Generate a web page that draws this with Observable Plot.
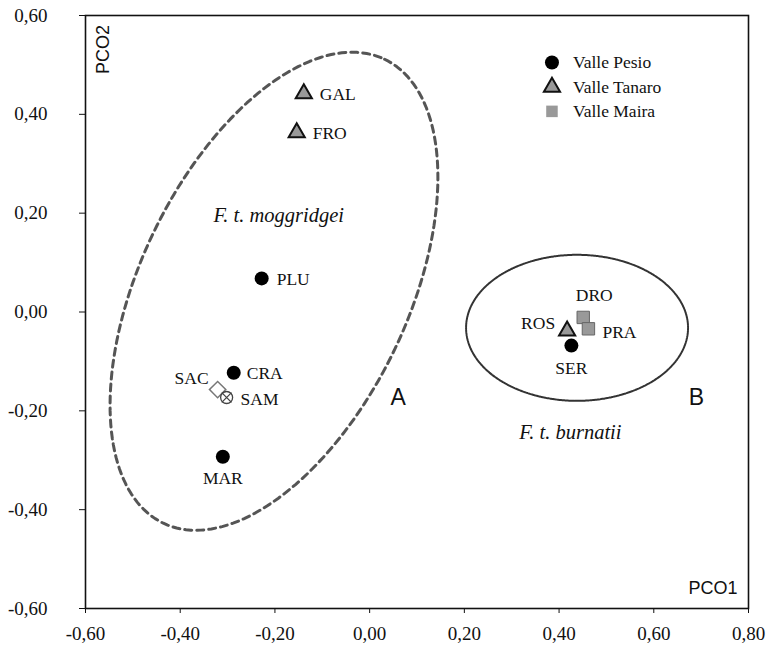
<!DOCTYPE html>
<html>
<head>
<meta charset="utf-8">
<script src="https://cdn.jsdelivr.net/npm/d3@7"></script>
<script src="https://cdn.jsdelivr.net/npm/@observablehq/plot@0.6"></script>
<style>
  html, body { margin: 0; padding: 0; background: #fff; }
  #chart svg { display: block; }
</style>
</head>
<body>
<div id="chart"></div>
<script>
// ---- data ----
const sites  = ["GAL", "FRO", "PLU", "CRA", "SAC", "SAM", "MAR", "ROS", "SER", "DRO", "PRA"];
const pco1   = [-0.139, -0.154, -0.228, -0.287, -0.321, -0.302, -0.310, 0.417, 0.426, 0.451, 0.462];
const pco2   = [0.442, 0.363, 0.068, -0.123, -0.157, -0.173, -0.293, -0.038, -0.068, -0.011, -0.034];
const valley = ["Valle Tanaro", "Valle Tanaro", "Valle Pesio", "Valle Pesio", "none", "none",
                "Valle Pesio", "Valle Tanaro", "Valle Pesio", "Valle Maira", "Valle Maira"];
const valleys = ["Valle Pesio", "Valle Tanaro", "Valle Maira"];
const groupNames = ["F. t. moggridgei", "F. t. burnatii"];
const groupLetters = ["A", "B"];
const xTicks = [-0.6, -0.4, -0.2, 0, 0.2, 0.4, 0.6, 0.8];
const yTicks = [-0.6, -0.4, -0.2, 0, 0.2, 0.4, 0.6];
const xLabel = "PCO1";
const yLabel = "PCO2";

// ---- layout ----
const W = 766, H = 652;
const mL = 85, mR = 18, mT = 15, mB = 44;
const kx = (W - mL - mR) / 1.4;   // px per unit
const ky = (H - mT - mB) / 1.2;

const rows = sites.map((s, i) => ({site: s, x: pco1[i], y: pco2[i], valley: valley[i]}));
const fmt = d => d3.format(".2f")(d).replace(".", ",").replace("\u2212", "-");

// enclosing ellipses (annotation shapes), center in data units, radii in px
function ellipse(cx, cy, aPx, bPx, deg) {
  const th = deg * Math.PI / 180, pts = [];
  for (let i = 0; i < 180; i++) {
    const t = 2 * Math.PI * i / 180;
    const u = aPx * Math.cos(t), v = bPx * Math.sin(t);
    const px = u * Math.sin(th) + v * Math.cos(th);
    const py = -u * Math.cos(th) + v * Math.sin(th);
    pts.push({x: cx + px / kx, y: cy - py / ky});
  }
  return pts;
}
const ellA = ellipse(-0.202, 0.042, 257, 134, 25.5);
const ellB = ellipse(0.438, -0.032, 73, 111, 0);

const serif = "'Liberation Serif', 'Times New Roman', serif";
const sans = "'Liberation Sans', Arial, sans-serif";
const fs = 17.5;

const labelPlace = {
  GAL: {dx: 16, dy: 1, a: "start"},
  FRO: {dx: 16, dy: 1, a: "start"},
  PLU: {dx: 15, dy: 1, a: "start"},
  CRA: {dx: 13, dy: 1, a: "start"},
  SAC: {dx: -9, dy: -11, a: "end"},
  SAM: {dx: 14, dy: 2, a: "start"},
  MAR: {dx: 0, dy: 22, a: "middle"},
  ROS: {dx: -12, dy: -7, a: "end"},
  SER: {dx: 0, dy: 23, a: "middle"},
  DRO: {dx: 11, dy: -22, a: "middle"},
  PRA: {dx: 14, dy: 4, a: "start"}
};
const labelMarks = sites.map(s => Plot.text(rows.filter(d => d.site === s), {
  x: "x", y: "y", text: "site", dx: labelPlace[s].dx, dy: labelPlace[s].dy,
  textAnchor: labelPlace[s].a, fontFamily: serif, fontSize: fs, fill: "#111"
}));

// legend rows
const legendRows = valleys.map((v, i) => ({name: v, x: 0.385, y: [0.505, 0.455, 0.406][i]}));

const chart = Plot.plot({
  width: W, height: H,
  marginLeft: mL, marginRight: mR, marginTop: mT, marginBottom: mB,
  x: {domain: [-0.6, 0.8]},
  y: {domain: [-0.6, 0.6]},
  style: {fontFamily: serif, fontSize: fs + "px", color: "#111", background: "#fff"},
  marks: [
    Plot.axisX({ticks: xTicks, tickFormat: () => "", tickSize: 5, label: null}),
    Plot.axisY({ticks: yTicks, tickFormat: () => "", tickSize: 6, label: null}),
    Plot.text(xTicks, {x: d => d, frameAnchor: "bottom", dy: 31, text: fmt, fontFamily: serif, fontSize: 19, fill: "#111"}),
    Plot.text(yTicks, {y: d => d, frameAnchor: "left", dx: -38, textAnchor: "end", text: fmt, fontFamily: serif, fontSize: 19, fill: "#111"}),
    Plot.frame({stroke: "#111", strokeWidth: 1.6}),
    Plot.line(ellA, {x: "x", y: "y", curve: "linear-closed", stroke: "#555", strokeWidth: 3, strokeDasharray: "7,5"}),
    Plot.line(ellB, {x: "x", y: "y", curve: "linear-closed", stroke: "#333", strokeWidth: 2, strokeDasharray: "1.6,0.8"}),
    // points
    Plot.dot(rows.filter(d => d.valley === "Valle Pesio"), {x: "x", y: "y", symbol: "circle", r: 7, fill: "#000"}),
    Plot.dot(rows.filter(d => d.valley === "Valle Tanaro"), {x: "x", y: "y", symbol: "triangle", r: 6, fill: "#999", stroke: "#111", strokeWidth: 2}),
    Plot.dot(rows.filter(d => d.valley === "Valle Maira"), {x: "x", y: "y", symbol: "square", r: 7, fill: "#999", stroke: "#666", strokeWidth: 1}),
    Plot.dot(rows.filter(d => d.site === "SAC"), {x: "x", y: "y", symbol: "square", r: 6.5, rotate: 45, fill: "#fff", stroke: "#777", strokeWidth: 1.5}),
    Plot.dot(rows.filter(d => d.site === "SAM"), {x: "x", y: "y", symbol: "circle", r: 6, fill: "#fff", stroke: "#444", strokeWidth: 1.3}),
    Plot.dot(rows.filter(d => d.site === "SAM"), {x: "x", y: "y", symbol: "times", r: 4.5, stroke: "#444", strokeWidth: 1.3}),
    ...labelMarks,
    // group annotations
    Plot.text([{x: -0.192, y: 0.195, t: groupNames[0]}, {x: 0.424, y: -0.243, t: groupNames[1]}],
      {x: "x", y: "y", text: "t", fontFamily: serif, fontStyle: "italic", fontSize: 20.5, fill: "#111"}),
    Plot.text([{x: 0.060, y: -0.173, t: groupLetters[0]}, {x: 0.690, y: -0.173, t: groupLetters[1]}],
      {x: "x", y: "y", text: "t", fontFamily: sans, fontSize: 23, fill: "#111"}),
    // axis titles
    Plot.text([{x: 0.777, y: -0.560, t: xLabel}], {x: "x", y: "y", text: "t", textAnchor: "end", fontFamily: sans, fontSize: 18, fill: "#111"}),
    Plot.text([{x: -0.563, y: 0.531, t: yLabel}], {x: "x", y: "y", text: "t", rotate: -90, fontFamily: sans, fontSize: 18, fill: "#111"}),
    // legend
    Plot.dot(legendRows.filter(d => d.name === "Valle Pesio"), {x: "x", y: "y", symbol: "circle", r: 7, fill: "#000"}),
    Plot.dot(legendRows.filter(d => d.name === "Valle Tanaro"), {x: "x", y: "y", symbol: "triangle", r: 6, fill: "#999", stroke: "#111", strokeWidth: 2}),
    Plot.dot(legendRows.filter(d => d.name === "Valle Maira"), {x: "x", y: "y", symbol: "square", r: 6.5, fill: "#999"}),
    Plot.text(legendRows, {x: "x", y: "y", text: "name", dx: 21, textAnchor: "start", fontFamily: serif, fontSize: fs, fill: "#111"})
  ]
});
document.getElementById("chart").appendChild(chart);
</script>
</body>
</html>
